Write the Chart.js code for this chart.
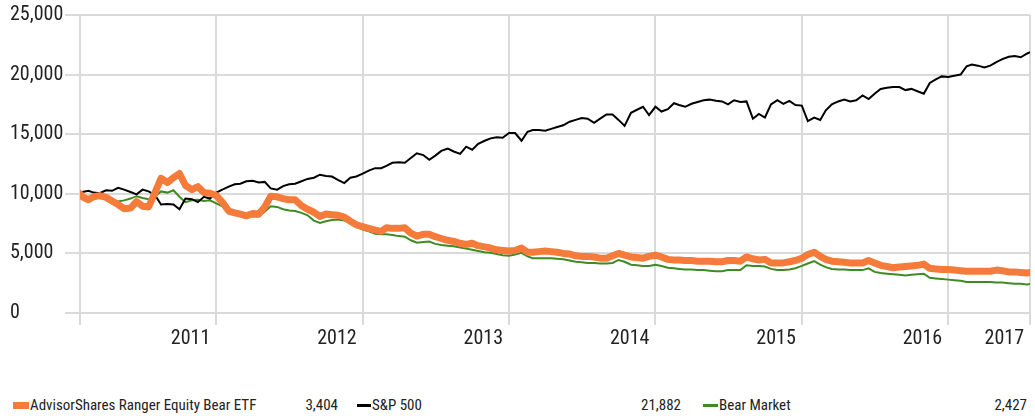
<!DOCTYPE html>
<html>
<head>
<meta charset="utf-8">
<script src="https://cdn.jsdelivr.net/npm/chart.js@4"></script>
<style>
  body { margin: 0; background: #fff; font-family: 'Liberation Sans Narrow', 'Roboto Condensed', 'DejaVu Sans Condensed', sans-serif; color: #222; }
  #wrap { position: absolute; left: 0; top: 0; width: 1035px; height: 360px; }
  #legend { position: absolute; left: 0; top: 395px; width: 1035px; height: 20px; font-size: 15px; }
  .item { position: absolute; top: 0; height: 20px; line-height: 20px; white-space: nowrap; }
  .swatch { position: absolute; left: 0; }
  .name { position: absolute; }
  .val { position: absolute; text-align: right; }
</style>
</head>
<body>
<div id="wrap"><canvas id="growthChart"></canvas></div>
<div id="legend"></div>
<script>
// Datumi (polumjesečno)
const dates = [
  '2011-01-26','2011-02-01','2011-02-16','2011-03-01','2011-03-16','2011-04-01','2011-04-16','2011-05-01','2011-05-16','2011-06-01','2011-06-16','2011-07-01','2011-07-16','2011-08-01','2011-08-16','2011-09-01','2011-09-16','2011-10-01','2011-10-16','2011-11-01','2011-11-16','2011-12-01','2011-12-16',
  '2012-01-01','2012-01-16','2012-02-01','2012-02-16','2012-03-01','2012-03-16','2012-04-01','2012-04-16','2012-05-01','2012-05-16','2012-06-01','2012-06-16','2012-07-01','2012-07-16','2012-08-01','2012-08-16','2012-09-01','2012-09-16','2012-10-01','2012-10-16','2012-11-01','2012-11-16','2012-12-01','2012-12-16',
  '2013-01-01','2013-01-16','2013-02-01','2013-02-16','2013-03-01','2013-03-16','2013-04-01','2013-04-16','2013-05-01','2013-05-16','2013-06-01','2013-06-16','2013-07-01','2013-07-16','2013-08-01','2013-08-16','2013-09-01','2013-09-16','2013-10-01','2013-10-16','2013-11-01','2013-11-16','2013-12-01','2013-12-16',
  '2014-01-01','2014-01-16','2014-02-01','2014-02-16','2014-03-01','2014-03-16','2014-04-01','2014-04-16','2014-05-01','2014-05-16','2014-06-01','2014-06-16','2014-07-01','2014-07-16','2014-08-01','2014-08-16','2014-09-01','2014-09-16','2014-10-01','2014-10-16','2014-11-01','2014-11-16','2014-12-01','2014-12-16',
  '2015-01-01','2015-01-16','2015-02-01','2015-02-16','2015-03-01','2015-03-16','2015-04-01','2015-04-16','2015-05-01','2015-05-16','2015-06-01','2015-06-16','2015-07-01','2015-07-16','2015-08-01','2015-08-16','2015-09-01','2015-09-16','2015-10-01','2015-10-16','2015-11-01','2015-11-16','2015-12-01','2015-12-16',
  '2016-01-01','2016-01-16','2016-02-01','2016-02-16','2016-03-01','2016-03-16','2016-04-01','2016-04-16','2016-05-01','2016-05-16','2016-06-01','2016-06-16','2016-07-01','2016-07-16','2016-08-01','2016-08-16','2016-09-01','2016-09-16','2016-10-01','2016-10-16','2016-11-01','2016-11-16','2016-12-01','2016-12-16',
  '2017-01-01','2017-01-16','2017-02-01','2017-02-16','2017-03-01','2017-03-16','2017-04-01','2017-04-16','2017-05-01','2017-05-16','2017-06-01','2017-06-16','2017-07-01','2017-07-16','2017-07-24'
];

// AdvisorShares Ranger Equity Bear ETF
const etfValues = [
  10000,9750,9500,9750,9850,9700,9400,9100,8750,8800,9350,8950,8900,10100,11300,10950,11350,11700,10700,10350,10600,10100,10050,
  9850,9300,8550,8400,8300,8150,8350,8300,8900,9800,9750,9600,9500,9500,9000,8700,8450,8100,8300,8250,8200,8050,7700,7400,
  7250,7100,6950,6850,7150,7100,7100,7150,6700,6450,6600,6600,6400,6250,6100,6000,5850,5750,5850,5650,5550,5450,5300,5250,
  5200,5250,5450,5100,5100,5150,5200,5150,5100,5000,4950,4800,4750,4750,4700,4600,4600,4800,5000,4850,4700,4650,4600,4750,
  4850,4700,4500,4450,4450,4400,4400,4350,4350,4350,4300,4300,4400,4400,4350,4700,4550,4450,4500,4200,4200,4200,4300,4400,
  4600,4900,5100,4750,4500,4350,4300,4250,4200,4200,4200,4400,4200,4000,3900,3800,3850,3900,3950,4000,4100,3750,3700,3650,
  3650,3600,3550,3500,3500,3500,3500,3500,3600,3550,3450,3450,3400,3350,3404
];

// S&P 500
const spValues = [
  10000,10150,10250,10100,10050,10300,10250,10500,10350,10150,9950,10350,10200,9900,9100,9150,9100,8700,9600,9550,9300,9750,9600,
  10100,10350,10600,10800,10850,11050,11100,10950,11000,10450,10350,10650,10800,10850,11050,11250,11350,11600,11500,11450,11150,10900,11350,11450,
  11700,11950,12150,12150,12350,12600,12650,12600,13000,13400,13250,12850,13200,13600,13800,13550,13350,13950,13700,14200,14450,14650,14750,14700,
  15100,15100,14450,15200,15350,15350,15300,15450,15600,15750,16050,16200,16350,16300,15950,16300,16650,16650,16200,15700,16800,17050,17300,16600,
  17300,16900,17100,17600,17450,17300,17550,17700,17850,17900,17800,17750,17500,17850,17700,17750,16300,16700,16400,17500,17850,17550,17800,17450,
  17400,16100,16400,16200,17000,17500,17750,17900,17750,17850,18250,17950,18400,18800,18900,18950,18950,18700,18800,18600,18400,19300,19600,19850,
  19800,19900,20000,20700,20850,20750,20600,20750,21050,21300,21500,21550,21450,21750,21882
];

// Bear Market
const bearValues = [
  10000,9700,9450,9700,9800,9650,9400,9350,9450,9600,9800,9650,9550,9800,10200,10100,10300,9750,9300,9450,9500,9400,9450,
  9200,8950,8700,8350,8250,8150,8100,8100,8500,8950,8900,8700,8600,8550,8400,8200,7750,7550,7700,7800,7850,7750,7550,7250,
  7000,6850,6650,6600,6600,6550,6450,6400,6100,5900,5950,6000,5800,5700,5650,5600,5500,5400,5300,5200,5100,5050,4950,4850,
  4800,4900,5050,4750,4600,4600,4600,4600,4550,4500,4400,4300,4250,4200,4200,4150,4150,4200,4450,4300,4050,4000,3950,3950,
  4050,3950,3800,3750,3700,3650,3650,3600,3600,3550,3500,3500,3600,3600,3600,4000,3950,3950,3900,3700,3600,3600,3650,3750,
  3950,4150,4350,4050,3850,3700,3650,3650,3600,3600,3600,3750,3450,3350,3300,3250,3200,3150,3200,3250,3300,2950,2900,2850,
  2800,2750,2700,2600,2600,2600,2600,2600,2550,2550,2500,2450,2450,2400,2427
];

const seriesNames = ['AdvisorShares Ranger Equity Bear ETF', 'S&P 500', 'Bear Market'];
const yTicks = [0, 5000, 10000, 15000, 20000, 25000];
const xTickDates = ['2012-01-01', '2013-01-01', '2014-01-01', '2015-01-01', '2016-01-01', '2017-01-01', '2017-07-24'];
const xTickLabels = ['2011', '2012', '2013', '2014', '2015', '2016', '2017'];

const FONT = "'Liberation Sans Narrow', 'Roboto Condensed', 'DejaVu Sans Condensed', sans-serif";

// datum -> decimalna godina
function toYear(s) {
  const [y, m, d] = s.split('-').map(Number);
  const start = Date.UTC(y, 0, 1);
  return y + (Date.UTC(y, m - 1, d) - start) / (Date.UTC(y + 1, 0, 1) - start);
}

const xs = dates.map(toYear);
const pts = arr => arr.map((v, i) => ({ x: xs[i], y: v }));
const xTickVals = xTickDates.map(toYear);

const ctx = document.getElementById('growthChart').getContext('2d');
const growthChart = new Chart(ctx, {
  type: 'line',
  data: {
    datasets: [
      { label: seriesNames[0], data: pts(etfValues), borderColor: '#f47b3a', borderWidth: 7, borderJoinStyle: 'round', borderCapStyle: 'round' },
      { label: seriesNames[1], data: pts(spValues), borderColor: '#000000', borderWidth: 2 },
      { label: seriesNames[2], data: pts(bearValues), borderColor: '#3f8a24', borderWidth: 2 }
    ]
  },
  options: {
    responsive: true,
    maintainAspectRatio: false,
    animation: false,
    events: [],
    layout: { padding: { left: 10, right: 5, top: 15, bottom: 0 } },
    elements: { point: { radius: 0 }, line: { tension: 0 } },
    plugins: { legend: { display: false }, tooltip: { enabled: false } },
    scales: {
      x: {
        type: 'linear',
        min: xs[0],
        max: xs[xs.length - 1],
        border: { display: false },
        grid: { color: '#dadada', lineWidth: 2, tickLength: 12 },
        afterBuildTicks: scale => {
          scale.ticks = [{ value: xs[0] }].concat(xTickVals.map(v => ({ value: v })));
        },
        afterFit: scale => { scale.height = 47; },
        ticks: {
          autoSkip: false,
          maxRotation: 0,
          align: 'end',
          labelOffset: -6,
          padding: 2,
          color: '#222',
          font: { family: FONT, size: 20 },
          callback: function (value) {
            const i = xTickVals.indexOf(value);
            return i < 0 ? '' : xTickLabels[i];
          }
        }
      },
      y: {
        min: 0,
        max: 25000,
        border: { display: false },
        grid: { color: '#dadada', lineWidth: 2, tickLength: 15 },
        afterBuildTicks: scale => { scale.ticks = yTicks.map(v => ({ value: v })); },
        afterFit: scale => { scale.width = 70; },
        ticks: {
          crossAlign: 'far',
          color: '#222',
          font: { family: FONT, size: 20 },
          callback: value => value.toLocaleString('en-US')
        }
      }
    }
  }
});

// Legenda s krajnjim vrijednostima
const legendCols = [
  { color: '#f47b3a', h: 7, w: 16, left: 13, valRight: 338, values: etfValues },
  { color: '#000000', h: 3, w: 14, left: 357, valRight: 681, values: spValues },
  { color: '#3f8a24', h: 3, w: 15, left: 703, valRight: 1027, values: bearValues }
];
const legend = document.getElementById('legend');
legendCols.forEach((c, i) => {
  const item = document.createElement('div');
  item.className = 'item';
  item.style.left = c.left + 'px';
  item.style.width = (c.valRight - c.left) + 'px';
  const sw = document.createElement('span');
  sw.className = 'swatch';
  sw.style.cssText = 'width:' + c.w + 'px;height:' + c.h + 'px;background:' + c.color + ';top:' + (10 - c.h / 2) + 'px';
  const name = document.createElement('span');
  name.className = 'name';
  name.style.left = (c.w + 1) + 'px';
  name.textContent = seriesNames[i];
  const val = document.createElement('span');
  val.className = 'val';
  val.style.right = '0px';
  val.textContent = c.values[c.values.length - 1].toLocaleString('en-US');
  item.appendChild(sw);
  item.appendChild(name);
  item.appendChild(val);
  legend.appendChild(item);
});
</script>
</body>
</html>
